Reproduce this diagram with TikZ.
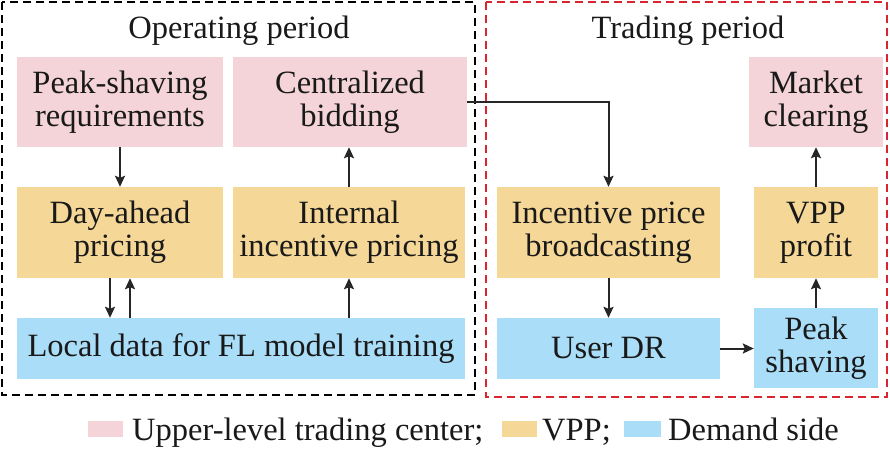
\documentclass[tikz,border=0pt]{standalone}
\usepackage{fontspec}
\setmainfont{Liberation Serif}
\usetikzlibrary{arrows.meta}
\definecolor{cpink}{HTML}{F4D4D8}
\definecolor{corange}{HTML}{F5D797}
\definecolor{cblue}{HTML}{AADDF7}
\definecolor{cred}{HTML}{D9262E}
\begin{document}
\begin{tikzpicture}[x=1pt,y=-1pt,
  every node/.style={font=\fontsize{32.5}{33}\selectfont, text=black!90, inner sep=0pt, align=center},
  box/.style={rectangle, draw=none},
  pinkbox/.style={box, fill=cpink},
  orangebox/.style={box, fill=corange},
  bluebox/.style={box, fill=cblue},
  arr/.style={line width=2pt, black!85, -{Stealth[length=11pt,width=10pt,inset=2pt]}},
  frame/.style={line width=1.8pt, dash pattern=on 8pt off 5pt}
]
\useasboundingbox (0,0) rectangle (890,451);
% frames
\draw[frame, black] (2,2) rectangle (475,395);
\draw[frame, cred] (486,2) rectangle (887,397);
\node[anchor=base] (t1) at (239,38) {Operating period};
\node[anchor=base] (t2) at (688,38) {Trading period};
% boxes
\node[pinkbox, minimum width=206, minimum height=90] (ps) at (120,102) {Peak-shaving\\requirements};
\node[pinkbox, minimum width=234, minimum height=90] (cb) at (350,102) {Centralized\\bidding};
\node[orangebox, minimum width=206, minimum height=91] (da) at (120,232.5) {Day-ahead\\pricing};
\node[orangebox, minimum width=232, minimum height=91] (ii) at (349,232.5) {Internal\\incentive pricing};
\node[bluebox, minimum width=448, minimum height=61] (ld) at (241,348.5) {Local data for FL model training};
\node[orangebox, minimum width=223, minimum height=91] (ip) at (608.5,232.5) {Incentive price\\broadcasting};
\node[orangebox, minimum width=124, minimum height=91] (vp) at (816,232.5) {VPP\\profit};
\node[pinkbox, minimum width=134, minimum height=90] (mc) at (816,102) {Market\\clearing};
\node[bluebox, minimum width=223, minimum height=61] (ud) at (608.5,348.5) {User DR};
\node[bluebox, minimum width=124, minimum height=80] (psv) at (816,348) {Peak\\shaving};
% arrows
\draw[arr] (ps.south) -- (da.north);
\draw[arr] (ii.north) -- (ii.north |- cb.south);
\draw[arr] ([xshift=-10pt]da.south) -- ([xshift=-10pt]da.south |- ld.north);
\draw[arr] ([xshift=10pt]da.south |- ld.north) -- ([xshift=10pt]da.south);
\draw[arr] (ii.south |- ld.north) -- (ii.south);
\draw[arr] (cb.east) -| (ip.north);
\draw[arr] (ip.south) -- (ud.north);
\draw[arr] (ud.east) -- (ud.east -| psv.west);
\draw[arr] (psv.north) -- (vp.south);
\draw[arr] (vp.north) -- (mc.south);
% legend
\fill[cpink] (88,421) rectangle (123,437);
\node[anchor=base west] (l1) at (132,440) {Upper-level trading center;};
\fill[corange] (502,421) rectangle (537,437);
\node[anchor=base west] (l2) at (542,440) {VPP;};
\fill[cblue] (624,421) rectangle (661,437);
\node[anchor=base west] (l3) at (668,440) {Demand side};
\end{tikzpicture}
\end{document}
